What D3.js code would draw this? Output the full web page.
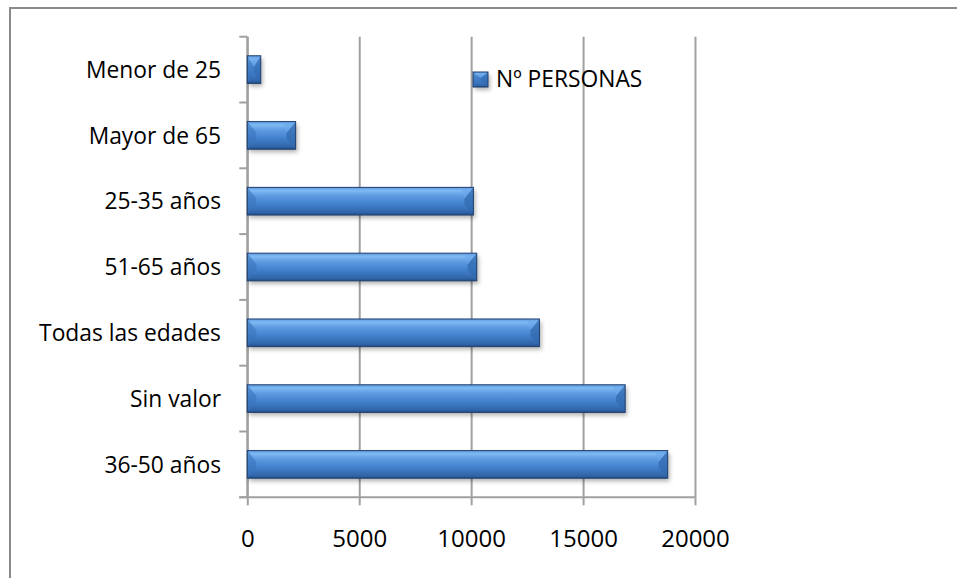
<!DOCTYPE html>
<html>
<head>
<meta charset="utf-8">
<script src="https://cdn.jsdelivr.net/npm/d3@7/dist/d3.min.js"></script>
<style>
html,body{margin:0;padding:0;background:#fff;}
svg{display:block;}
text{font-family:"Open Sans",sans-serif;fill:#000;}
</style>
</head>
<body>
<svg id="chart" width="957" height="578"></svg>
<script>
const categories = ["Menor de 25","Mayor de 65","25-35 años","51-65 años","Todas las edades","Sin valor","36-50 años"];
const values = [600, 2160, 10100, 10250, 13050, 16880, 18780];
const xTicks = [0, 5000, 10000, 15000, 20000];
const seriesName = "Nº PERSONAS";

const svg = d3.select("#chart");
const W = 957, H = 578;
const plot = {left: 247.3, right: 695, top: 36.7, bottom: 497.3};

const x = d3.scaleLinear().domain([0, 20000]).range([plot.left, plot.right]);
const y = d3.scaleBand().domain(categories).range([plot.top, plot.bottom]).paddingInner(0.58).paddingOuter(0.29);

const defs = svg.append("defs");
const grad = defs.append("linearGradient").attr("id","barGrad").attr("x1",0).attr("y1",0).attr("x2",0).attr("y2",1);
[[0,"#5d9be3"],[0.12,"#80baf3"],[0.3,"#5e9be2"],[0.6,"#4281cd"],[0.9,"#3166aa"],[1,"#244f88"]]
  .forEach(([o,c]) => grad.append("stop").attr("offset",o).attr("stop-color",c));
const blur = defs.append("filter").attr("id","shadow").attr("x","-20%").attr("y","-50%").attr("width","140%").attr("height","200%");
blur.append("feGaussianBlur").attr("stdDeviation",2.2);

// outer border
svg.append("rect").attr("x",10).attr("y",8).attr("width",W+10).attr("height",H+10)
  .attr("fill","none").attr("stroke","#8a8a8a").attr("stroke-width",2);

// gridlines via axis
const gx = svg.append("g").attr("transform",`translate(0,${plot.bottom})`)
  .call(d3.axisBottom(x).tickValues(xTicks).tickSize(-(plot.bottom-plot.top)).tickFormat(""));
gx.selectAll("line").attr("stroke","#a0a0a0").attr("stroke-width",2);
gx.select(".domain").remove();

// x axis with outward ticks and labels
const ax = svg.append("g").attr("transform",`translate(0,${plot.bottom})`)
  .call(d3.axisBottom(x).tickValues(xTicks).tickSize(8).tickPadding(25).tickFormat(d3.format("d")));
ax.select(".domain").attr("d",`M${plot.left-8},0H${plot.right}`).attr("stroke","#a0a0a0").attr("stroke-width",2);
ax.selectAll("line").attr("stroke","#a0a0a0").attr("stroke-width",2);
ax.selectAll("text").attr("font-size",24).style("font-family","'Open Sans',sans-serif").attr("fill","#000");

// y axis
const yTickPos = d3.range(categories.length+1).map(i => plot.top + i*(plot.bottom-plot.top)/categories.length);
const ay = svg.append("g");
ay.append("line").attr("x1",plot.left).attr("x2",plot.left).attr("y1",plot.top).attr("y2",plot.bottom)
  .attr("stroke","#a0a0a0").attr("stroke-width",2);
ay.selectAll("line.t").data(yTickPos).join("line").attr("class","t")
  .attr("x1",plot.left-8).attr("x2",plot.left).attr("y1",d=>d).attr("y2",d=>d)
  .attr("stroke","#a0a0a0").attr("stroke-width",2);
ay.selectAll("text").data(categories).join("text")
  .attr("x",221).attr("y",d=>y(d)+y.bandwidth()/2).attr("dy","0.36em")
  .attr("text-anchor","end").attr("font-size",22.8).text(d=>d);

// bars
const bars = svg.append("g").selectAll("g").data(categories.map((c,i)=>({c,v:values[i]}))).join("g");
function drawBar(sel, x0, x1, y0, h) {
  const bw = Math.min(9, (x1-x0)/2), bh = h*0.4;
  sel.append("rect").attr("x",x0+2).attr("y",y0+3).attr("width",x1-x0).attr("height",h)
    .attr("fill","rgba(0,0,0,0.3)").attr("filter","url(#shadow)");
  sel.append("rect").attr("x",x0).attr("y",y0).attr("width",x1-x0).attr("height",h).attr("fill","url(#barGrad)");
  // left bevel
  sel.append("path").attr("d",`M${x0},${y0}L${x0+bw},${y0+bh}L${x0+bw},${y0+h-bh}L${x0},${y0+h}Z`)
    .attr("fill","#3a74bd").attr("opacity",0.6);
  // right bevel
  sel.append("path").attr("d",`M${x1},${y0}L${x1-bw},${y0+bh}L${x1-bw},${y0+h-bh}L${x1},${y0+h}Z`)
    .attr("fill","#3169ae").attr("opacity",0.75);
  sel.append("path").attr("d",`M${x1-bw},${y0+bh}L${x1},${y0}L${x1-bw-4},${y0}Z`).attr("fill","#6aa6ea").attr("opacity",0.6);
  sel.append("rect").attr("x",x0).attr("y",y0).attr("width",x1-x0).attr("height",h)
    .attr("fill","none").attr("stroke","#1f3f6e").attr("stroke-width",1);
}
bars.each(function(d){
  drawBar(d3.select(this), x(0), x(d.v), y(d.c), y.bandwidth());
});

// legend
const lg = svg.append("g");
drawBar(lg, 473, 488, 72, 15);
lg.append("text").attr("x",496).attr("y",87).attr("font-size",22.8).text(seriesName);
</script>
</body>
</html>
